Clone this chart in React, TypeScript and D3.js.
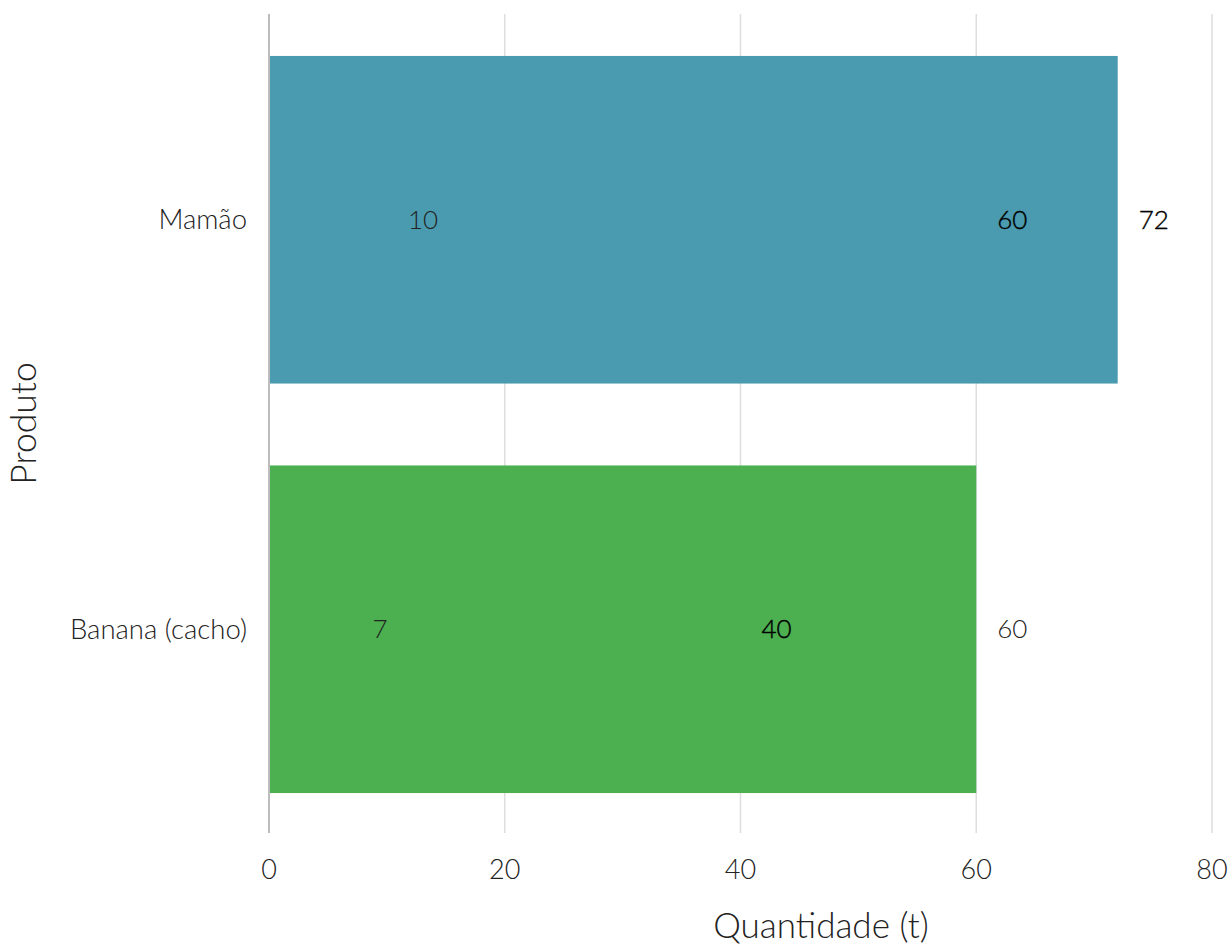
import React from "react";
import * as d3 from "d3";

const categories = ["Mamão", "Banana (cacho)"];
const totals = [72, 60];
const labelValues = [
  [10, 60, 72],
  [7, 40, 60],
];
const labelStrong = [
  [false, true, true],
  [false, true, false],
];
const barColors = ["#4A9BAF", "#4CAF50"];
const xTicks = [0, 20, 40, 60, 80];

const W = 1231;
const H = 944;
const FONT = "Lato, 'Open Sans', sans-serif";

export default function App() {
  const x = d3.scaleLinear().domain([0, 80]).range([269, 1212]);
  const y = d3
    .scaleBand<string>()
    .domain(categories)
    .range([15, 834])
    .paddingInner(0.2)
    .paddingOuter(0.1);

  return (
    <div style={{ position: "absolute", left: 0, top: 0 }}>
      <svg width={W} height={H} style={{ display: "block", fontFamily: FONT }}>
        <rect width={W} height={H} fill="#fff" />
        {xTicks.map((t) => (
          <line
            key={t}
            x1={x(t)}
            x2={x(t)}
            y1={14}
            y2={833}
            stroke={t === 0 ? "#bdbdbd" : "#dedede"}
            strokeWidth={t === 0 ? 2 : 1.5}
          />
        ))}
        {categories.map((c, i) => (
          <rect
            key={c}
            x={x(0) + 1}
            y={y(c)}
            width={x(totals[i]) - x(0) - 1}
            height={y.bandwidth()}
            fill={barColors[i]}
          />
        ))}
        {categories.map((c, i) =>
          labelValues[i].map((v, j) => (
            <text
              key={c + j}
              x={x(v) + 21}
              y={(y(c) as number) + y.bandwidth() / 2 - 1}
              dominantBaseline="central"
              fontSize={26}
              fontWeight={300}
              stroke={labelStrong[i][j] ? "#000" : "none"}
              strokeWidth={0.4}
              fill={labelStrong[i][j] ? "#000" : "#222"}
            >
              {v}
            </text>
          ))
        )}
        {categories.map((c) => (
          <text
            key={c}
            x={247}
            y={(y(c) as number) + y.bandwidth() / 2 - 1}
            dominantBaseline="central"
            textAnchor="end"
            fontSize={27.5}
            fontWeight={300}
            fill="#222"
          >
            {c}
          </text>
        ))}
        {xTicks.map((t) => (
          <text
            key={t}
            x={x(t)}
            y={879}
            textAnchor="middle"
            fontSize={27}
            fontWeight={300}
            fill="#222"
          >
            {t}
          </text>
        ))}
        <text
          x={821}
          y={938}
          textAnchor="middle"
          fontSize={35}
          fontWeight={300}
          fill="#222"
        >
          Quantidade (t)
        </text>
        <text
          transform={`translate(36, 423.5) rotate(-90)`}
          textAnchor="middle"
          fontSize={35.5}
          fontWeight={300}
          fill="#222"
        >
          Produto
        </text>
      </svg>
    </div>
  );
}
